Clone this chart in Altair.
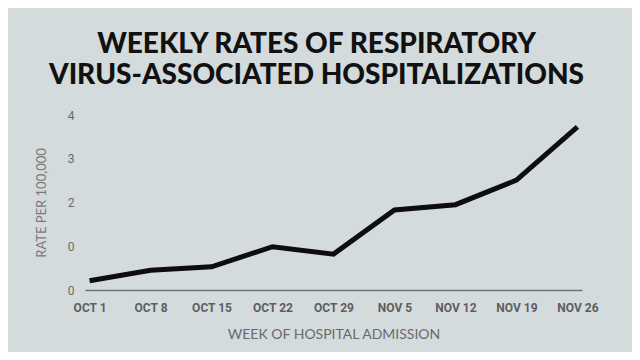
import altair as alt
import pandas as pd

weeks = ["OCT 1", "OCT 8", "OCT 15", "OCT 22", "OCT 29", "NOV 5", "NOV 12", "NOV 19", "NOV 26"]
rates = [0.21, 0.45, 0.53, 0.99, 0.82, 1.83, 1.95, 2.51, 3.73]
y_ticks = [0, 1, 2, 3, 4]
title_lines = ["WEEKLY RATES OF RESPIRATORY", "VIRUS-ASSOCIATED HOSPITALIZATIONS"]

df = pd.DataFrame({"week": weeks, "rate": rates})

chart = alt.Chart(df).mark_line(color="#0d0d0d", strokeWidth=5, strokeJoin="miter").encode(
    x=alt.X("week:N", sort=weeks,
            scale=alt.Scale(type="point", padding=0.075),
            axis=alt.Axis(title="WEEK OF HOSPITAL ADMISSION", labelAngle=0, ticks=False,
                          domainColor="#707070", domainWidth=1.5,
                          labelFont="Roboto", labelFontWeight="bold", labelFontSize=12,
                          labelColor="#5e5e5e", labelPadding=12,
                          titleFont="Lato", titleFontSize=14, titleFontWeight="normal",
                          titleColor="#6a6a6a", titlePadding=14)),
    y=alt.Y("rate:Q", scale=alt.Scale(domain=[0, 4], nice=False, zero=True),
            axis=alt.Axis(title="RATE PER 100,000", values=y_ticks, ticks=False, domain=False,
                          grid=False,
                          labelExpr="datum.value == 1 ? '0' : datum.label",
                          labelFont="Roboto", labelFontSize=12, labelColor="#6a6a6a",
                          labelPadding=11,
                          titleFont="Lato", titleFontSize=13, titleFontWeight="normal",
                          titleColor="#7a7a7a", titlePadding=19)),
).properties(
    width=497,
    height=175,
    autosize=alt.AutoSizeParams(type="none"),
    padding={"left": 77, "top": 107, "right": 50, "bottom": 62},
    background="#d4dbdc",
    title=alt.Title(title_lines, font="Lato", fontSize=28, fontWeight=900, color="#111111",
                    anchor="middle", frame="group", lineHeight=31, offset=19, dx=-17),
).configure_view(stroke=None).configure_axis(grid=False)

chart.save("out.html", embed_options={"renderer": "svg", "actions": False})
